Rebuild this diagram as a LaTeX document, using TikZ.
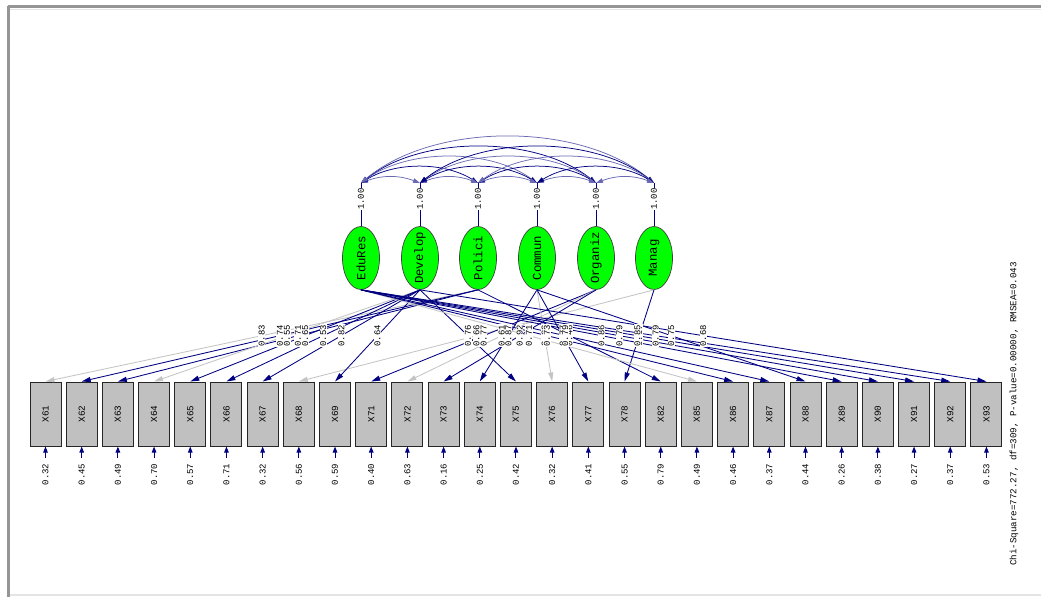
\documentclass[tikz,border=0pt]{standalone}
\usepackage{fontspec}
\newfontfamily\monof{Liberation Mono}
\usetikzlibrary{arrows.meta,shapes.geometric,calc}
\definecolor{navyc}{HTML}{000080}
\definecolor{lnavy}{HTML}{6A6AB4}
\definecolor{grayline}{HTML}{C4C4C4}
\definecolor{boxfill}{HTML}{C0C0C0}
\definecolor{latfill}{HTML}{00FF00}
\definecolor{framec}{HTML}{959595}
\definecolor{framel}{HTML}{E4E4E4}
\begin{document}
\begin{tikzpicture}[x=1pt,y=-1pt,
  latent/.style={ellipse, draw=black!75, line width=0.7pt, fill=latfill, minimum width=37pt, minimum height=63pt, inner sep=0pt},
  lattext/.style={rotate=90, font=\monof\fontsize{12.3}{13}\selectfont, inner sep=0pt},
  obsbox/.style={rectangle, draw=black!85, line width=1pt, fill=boxfill, minimum width=31pt, minimum height=64pt, inner sep=0pt},
  obstext/.style={rotate=90, font=\monof\fontsize{9.3}{10}\selectfont, inner sep=0pt},
  numlbl/.style={rotate=90, font=\monof\fontsize{8.9}{10}\selectfont, fill=white, inner sep=0.6pt},
  errlbl/.style={rotate=90, font=\monof\fontsize{9}{10}\selectfont, inner sep=0pt},
  loadpath/.style={draw=navyc, line width=0.85pt, arrows={-Triangle[length=9pt,width=5pt]}},
  graypath/.style={draw=grayline, line width=0.85pt, arrows={-Triangle[length=9pt,width=5pt]}},
  errpath/.style={draw=navyc, line width=1pt, shorten <=6pt, arrows={-Triangle[length=6pt,width=4.5pt]}},
  varline/.style={draw=navyc, line width=0.8pt},
  covar0/.style={draw=navyc, line width=0.75pt, arrows={Triangle[length=7pt,width=4.5pt]-Triangle[length=7pt,width=4.5pt]}},
  covar1/.style={draw=lnavy, line width=0.75pt, arrows={Triangle[length=7pt,width=4.5pt]-Triangle[length=7pt,width=4.5pt]}},
  fitlbl/.style={rotate=90, font=\monof\fontsize{9.2}{10}\selectfont, inner sep=0pt}
]
\useasboundingbox (0,0) rectangle (1041,597);
% frame
\draw[framel, line width=1.5pt] (8,595) -- (1041,595);
\draw[framel, line width=1pt] (10,9) -- (1041,9);
\draw[framec, line width=3pt] (8,6) -- (1041,6);
\draw[framec, line width=3pt] (8,6) -- (8,597);

% latent variables
\foreach \nm/\lx/\txt/\k in {E/361/EduRes/1, D/420/Develop/2, P/478/Polici/3, C/537/Commun/4, O/596/Organiz/5, M/654/Manag/6}{
  \node[latent] (L\nm) at (\lx,258) {};
  \node[lattext] (T\nm) at (L\nm) {\txt};
  \coordinate (t\k) at (\lx,183);
  \draw[varline] (L\nm.north) -- (t\k);
}

% covariances
\foreach \i in {1,...,5}{
  \pgfmathtruncatemacro\ii{\i+1}
  \foreach \j in {\ii,...,6}{
    \pgfmathsetmacro\cc{(10*(\j-\i)-4)/0.75}
    \pgfmathsetmacro\aa{8+13*(\j-\i)}
    \pgfmathtruncatemacro\pty{mod(\i+\j,2)}
    \draw[covar\pty] (t\i) .. controls +(\aa,-\cc) and +(-\aa,-\cc) .. (t\j);
  }
}

% variance labels
\foreach \lx/\k in {361/1,420/2,478/3,537/4,596/5,654/6}{
  \node[numlbl] (v\k) at (\lx,199) {1.00};
}

% observed variables
\foreach \n/\lat/\ld/\er/\st [count=\i from 0] in {
 61/P/0.83/0.32/graypath, 62/P/0.74/0.45/loadpath, 63/P/0.71/0.49/loadpath,
 64/D/0.55/0.70/graypath, 65/D/0.65/0.57/loadpath, 66/D/0.53/0.71/loadpath,
 67/D/0.82/0.32/loadpath, 68/M/0.66/0.56/graypath, 69/D/0.64/0.59/loadpath,
 71/O/0.77/0.40/loadpath, 72/O/0.61/0.63/graypath, 73/O/0.92/0.16/loadpath,
 74/C/0.87/0.25/loadpath, 75/D/0.76/0.42/loadpath, 76/C/0.82/0.32/graypath,
 77/C/0.77/0.41/loadpath, 78/M/0.67/0.55/loadpath, 82/P/0.46/0.79/loadpath,
 85/E/0.71/0.49/graypath, 86/E/0.73/0.46/loadpath, 87/E/0.79/0.37/loadpath,
 88/C/0.75/0.44/loadpath, 89/E/0.86/0.26/loadpath, 90/E/0.79/0.38/loadpath,
 91/E/0.85/0.27/loadpath, 92/E/0.79/0.37/loadpath, 93/D/0.68/0.53/loadpath}{
  \pgfmathsetmacro\bx{45.5+36.19*\i}
  \node[obsbox] (X\n) at (\bx,414) {};
  \node[obstext] (N\n) at (X\n) {X\n};
  \node[errlbl] (e\n) at (\bx,474.5) {\er};
  \draw[errpath] (e\n) -- (X\n);
  \draw[\st] (L\lat.south) -- (X\n.north);
}
% loading labels
\foreach \n/\lat/\ld in {
 61/P/0.83, 62/P/0.74, 63/P/0.71, 64/D/0.55, 65/D/0.65, 66/D/0.53, 67/D/0.82,
 68/M/0.66, 69/D/0.64, 71/O/0.77, 72/O/0.61, 73/O/0.92, 74/C/0.87, 75/D/0.76,
 76/C/0.82, 77/C/0.77, 78/M/0.67, 82/P/0.46, 85/E/0.71, 86/E/0.73, 87/E/0.79,
 88/C/0.75, 89/E/0.86, 90/E/0.79, 91/E/0.85, 92/E/0.79, 93/D/0.68}{
  \path (L\lat.south) -- (X\n.north) node[numlbl, pos=0.5] (g\n) {\ld};
}

\node[fitlbl] (fit) at (1014,414) {Chi-Square=772.27, df=309, P-value=0.00000, RMSEA=0.043};
\end{tikzpicture}
\end{document}
